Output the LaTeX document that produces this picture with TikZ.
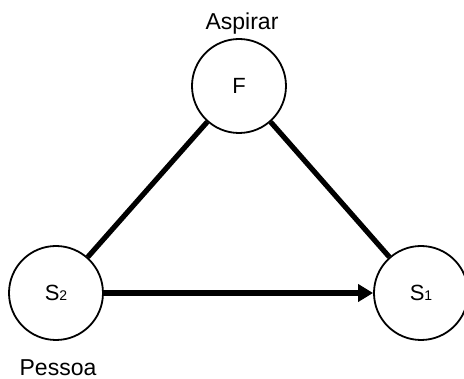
\documentclass[tikz,border=0pt]{standalone}
\usepackage{fontspec}
\setmainfont{Liberation Sans}
\usetikzlibrary{arrows.meta,positioning}
\tikzstyle{state} = [circle, draw=black, line width=1.8pt, fill=white, text=black, text centered, font=\fontsize{22}{22}\selectfont, minimum size = 94pt, inner sep=0pt]
\tikzstyle{textonly} = [draw=none, fill=none, text centered, inner sep=1pt, font=\fontsize{23}{23}\selectfont]
\tikzstyle{tedge} = [draw, line width=5.2pt, black]
\newcommand{\idx}[1]{{\fontsize{14}{14}\selectfont #1}}

\begin{document}
\begin{tikzpicture}[auto, on grid]
\useasboundingbox (-239pt,-293pt) rectangle (225pt,86pt);

% states ==================================
\node[state] (F) {F};
\node[state, below left=207pt and 183pt of F] (S2) {S\idx{2}};
\node[state, right=365pt of S2] (S1) {S\idx{1}};

% labels
\node[textonly, above=62pt of F, xshift=3pt] (aspirar) {Aspirar};
\node[textonly, below=74.5pt of S2, xshift=2pt] (pessoa) {Pessoa};

%edges
\path[tedge] (F) -- (S2);
\path[tedge] (F) -- (S1);
\path[tedge, -{Triangle[length=15pt, width=17pt]}] (S2) -- (S1);

\end{tikzpicture}
\end{document}
